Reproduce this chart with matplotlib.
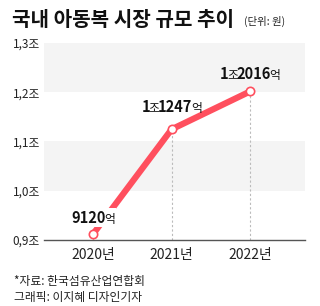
import matplotlib
matplotlib.use("Agg")
import matplotlib.pyplot as plt
from matplotlib.offsetbox import TextArea, HPacker, AnnotationBbox

plt.rcParams['font.family'] = ['Noto Sans CJK KR', 'DejaVu Sans']

years = ["2020년", "2021년", "2022년"]
values = [0.9120, 1.1247, 1.2016]  # 조원
label_parts = [[("9120", True), ("억", False)],
               [("1", True), ("조", False), ("1247", True), ("억", False)],
               [("1", True), ("조", False), ("2016", True), ("억", False)]]
yticks = [0.9, 1.0, 1.1, 1.2, 1.3]
ytick_labels = ["0,9조", "1,0조", "1,1조", "1,2조", "1,3조"]
title = "국내 아동복 시장 규모 추이"
unit = "(단위: 원)"
source = "*자료: 한국섬유산업연합회"
credit = "그래픽: 이지혜 디자인기자"

red = "#FF4F5E"

fig = plt.figure(figsize=(3.2, 3.06), dpi=100)
ax = fig.add_axes([44/320, 1-240/306, 261/320, 197/306])
x = list(range(len(years)))
ax.set_xlim(-0.625, 2.70)
ax.set_ylim(0.9, 1.3)

# bands
ax.axhspan(1.2, 1.3, color="#F4F4F4", zorder=0, lw=0)
ax.axhspan(1.0, 1.1, color="#F4F4F4", zorder=0, lw=0)

for xi, v in zip(x, values):
    ax.plot([xi, xi], [0.9, v], color="#BBBBBB", lw=0.8, ls=(0, (2, 2)), zorder=1)

ax.plot(x, values, color=red, lw=4.5, solid_capstyle="butt", zorder=2)
ax.plot(x, values, ls="none", marker="o", ms=6, mfc="white", mec=red, mew=1.2, zorder=5)

offsets = [6, 10, 7]
for i, (xi, v) in enumerate(zip(x, values)):
    children = []
    for txt, bold in label_parts[i]:
        if bold:
            tp = dict(fontsize=10.5, fontweight="bold", color="#111111")
        else:
            tp = dict(fontsize=8.5, color="#111111")
        children.append(TextArea(txt, textprops=tp))
    pack = HPacker(children=children, align="baseline", pad=0, sep=-1)
    ab = AnnotationBbox(pack, (xi, v), xybox=(0, offsets[i]), xycoords="data",
                        boxcoords="offset points", box_alignment=(0.5, 0),
                        frameon=(i == 0), pad=0.1, zorder=4,
                        bboxprops=dict(facecolor="white", edgecolor="none"))
    ax.add_artist(ab)

ax.set_yticks(yticks)
ax.set_yticklabels(ytick_labels, fontsize=8.5, color="#222222")
ax.set_xticks(x)
ax.set_xticklabels(years, fontsize=10, color="#222222")
ax.tick_params(axis="both", length=0)
ax.tick_params(axis="y", pad=3)
ax.tick_params(axis="x", pad=6)
for s in ["top", "right", "left"]:
    ax.spines[s].set_visible(False)
ax.spines["bottom"].set_color("#555555")
ax.spines["bottom"].set_linewidth(1)

fig.text(12/320, 1-19/306, title, fontsize=14.5, fontweight="bold", color="#111111", va="center", ha="left")
fig.text(244/320, 1-21/306, unit, fontsize=7.5, color="#222222", va="center", ha="left")
fig.text(14/320, 1-281/306, source, fontsize=8.5, color="#222222", va="center", ha="left")
fig.text(14/320, 1-298/306, credit, fontsize=8.5, color="#222222", va="center", ha="left")

fig.savefig("out.png", dpi=100)
